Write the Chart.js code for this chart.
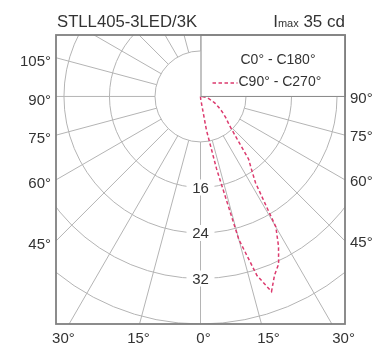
<!DOCTYPE html>
<html>
<head>
<meta charset="utf-8">
<script src="https://cdn.jsdelivr.net/npm/chart.js@4.4.1/dist/chart.umd.min.js"></script>
<style>
  html, body { margin: 0; padding: 0; background: #fff; }
  #wrap { width: 388px; height: 349px; }
</style>
</head>
<body>
<div id="wrap"><canvas id="polarChart" width="388" height="349"></canvas></div>
<script>
// gamma angles (deg from nadir) and intensities in cd
const gammaAngles = [0, 5, 10, 12.5, 15, 17.5, 20, 22.5, 25, 27.5, 30, 32.5, 35, 37.5, 40, 45, 50, 55, 60, 65, 70, 75, 80, 85, 90];
const c90Values  = [0, 0.5, 6, 13, 26, 33, 36.5, 34, 32.5, 29.7, 26.5, 18, 15.6, 13.9, 10.5, 7.2, 5.8, 4.6, 3.6, 2.8, 2.1, 1.5, 1, 0.5, 0];
const c0Values = [];

const ringValues = [8, 16, 24, 32, 40];
const ringLabels = [16, 24, 32];
const spokeAngles = [-180, -165, -150, -135, -120, -105, -90, -75, -60, -45, -30, -15, 0, 15, 30, 45, 60, 75, 90, 105, 120, 135, 150, 165];
const leftTicks = [105, 90, 75, 60, 45];
const rightTicks = [90, 75, 60, 45];
const bottomTicks = [-30, -15, 0, 15, 30];

const seriesNames = ["C0° - C180°", "C90° - C270°"];
const chartTitle = "STLL405-3LED/3K";
const imaxText = "35 cd";

const FONT = "'Liberation Sans', Arial, sans-serif";
const TXT = "#333";
const GRID = "#b4b4b4";
const RED = "#dc3a6e";

function toXY(angles, values) {
  return values.map((v, i) => {
    const a = angles[i] * Math.PI / 180;
    return { x: v * Math.sin(a), y: -v * Math.cos(a) };
  });
}

const polarGrid = {
  id: "polarGrid",
  beforeDatasetsDraw(chart) {
    const { ctx, chartArea: area, scales: { x, y } } = chart;
    const cx = x.getPixelForValue(0), cy = y.getPixelForValue(0);
    const k = x.getPixelForValue(1) - cx;
    ctx.save();
    ctx.beginPath();
    ctx.rect(area.left, area.top, area.width, area.height);
    ctx.clip();
    ctx.strokeStyle = GRID;
    ctx.lineWidth = 1;
    ringValues.forEach(r => {
      ctx.beginPath();
      ctx.arc(cx, cy, r * k, 0, Math.PI * 2);
      ctx.stroke();
    });
    spokeAngles.forEach(g => {
      const a = g * Math.PI / 180;
      ctx.beginPath();
      ctx.moveTo(cx + Math.sin(a) * ringValues[0] * k, cy + Math.cos(a) * ringValues[0] * k);
      ctx.lineTo(cx + Math.sin(a) * 80 * k, cy + Math.cos(a) * 80 * k);
      ctx.stroke();
    });
    // ring labels on the nadir line
    ctx.font = "15px " + FONT;
    ctx.textAlign = "center";
    ctx.textBaseline = "middle";
    ringLabels.forEach(r => {
      const py = cy + r * k;
      ctx.fillStyle = "#fff";
      ctx.fillRect(cx - 14, py - 8, 28, 16);
      ctx.fillStyle = TXT;
      ctx.fillText(String(r), cx, py + 1);
    });
    ctx.restore();
  },
  afterDraw(chart) {
    const { ctx, chartArea: area, scales: { x, y } } = chart;
    const cx = x.getPixelForValue(0), cy = y.getPixelForValue(0);
    ctx.save();
    // legend box in the upper right quadrant
    ctx.fillStyle = "#fff";
    ctx.fillRect(cx, area.top, area.right - cx, cy - area.top);
    ctx.strokeStyle = "#888";
    ctx.lineWidth = 1;
    ctx.strokeRect(cx + 0.5, area.top, area.right - cx, cy - area.top);
    ctx.font = "14px " + FONT;
    ctx.textAlign = "left";
    ctx.textBaseline = "middle";
    ctx.fillStyle = TXT;
    ctx.fillText(chart.data.datasets[0].label, cx + 40, area.top + 25);
    ctx.fillText(chart.data.datasets[1].label, cx + 38, area.top + 47);
    ctx.strokeStyle = RED;
    ctx.lineWidth = 1.5;
    ctx.setLineDash([3.5, 2.5]);
    ctx.beginPath();
    ctx.moveTo(cx + 12, area.top + 48);
    ctx.lineTo(cx + 37, area.top + 48);
    ctx.stroke();
    ctx.setLineDash([]);

    // frame
    ctx.strokeStyle = "#808080";
    ctx.lineWidth = 1.8;
    ctx.strokeRect(area.left, area.top, area.width, area.height);

    // angle labels
    ctx.fillStyle = TXT;
    ctx.font = "15px " + FONT;
    ctx.textAlign = "right";
    leftTicks.forEach(g => {
      const a = g * Math.PI / 180;
      const py = cy + (cx - area.left) / Math.tan(a);
      ctx.fillText(g + "°", area.left - 5, py + 4);
    });
    ctx.textAlign = "left";
    rightTicks.forEach(g => {
      const a = g * Math.PI / 180;
      const py = cy + (area.right - cx) / Math.tan(a);
      ctx.fillText(g + "°", area.right + 5, py + 2);
    });
    ctx.textAlign = "center";
    bottomTicks.forEach(g => {
      const a = g * Math.PI / 180;
      const ly = area.bottom + 15;
      const px = cx + (ly - cy) * Math.tan(a);
      ctx.fillText(Math.abs(g) + "°", px + 3, ly);
    });

    // title and Imax
    ctx.textAlign = "left";
    let fs = 17;
    ctx.font = fs + "px " + FONT;
    fs = fs * 140 / ctx.measureText(chartTitle).width;
    ctx.font = fs.toFixed(1) + "px " + FONT;
    ctx.fillText(chartTitle, area.left + 1, 22);
    ctx.textAlign = "right";
    ctx.font = "17px " + FONT;
    ctx.fillText(imaxText, area.right, 22);
    const w1 = ctx.measureText(" " + imaxText).width;
    ctx.font = "11px " + FONT;
    ctx.fillText("max", area.right - w1, 24);
    const w2 = ctx.measureText("max").width;
    ctx.font = "17px " + FONT;
    ctx.fillText("I", area.right - w1 - w2, 22);
    ctx.restore();
  }
};

new Chart(document.getElementById("polarChart"), {
  type: "scatter",
  data: {
    datasets: [{
      label: seriesNames[0],
      data: toXY(gammaAngles, c0Values),
      showLine: true,
      borderColor: "rgba(0,0,0,0)",
      pointRadius: 0
    }, {
      label: seriesNames[1],
      data: toXY(gammaAngles, c90Values),
      showLine: true,
      borderColor: RED,
      borderWidth: 1.5,
      borderDash: [3.5, 2.5],
      pointRadius: 0,
      tension: 0
    }]
  },
  options: {
    responsive: false,
    animation: false,
    layout: { padding: { left: 56, right: 43, top: 35, bottom: 25 } },
    scales: {
      x: { type: "linear", min: -25.4, max: 25.4, display: false },
      y: { type: "linear", min: -40, max: 10.8, display: false }
    },
    plugins: {
      legend: { display: false },
      tooltip: { enabled: false }
    }
  },
  plugins: [polarGrid]
});
</script>
</body>
</html>
